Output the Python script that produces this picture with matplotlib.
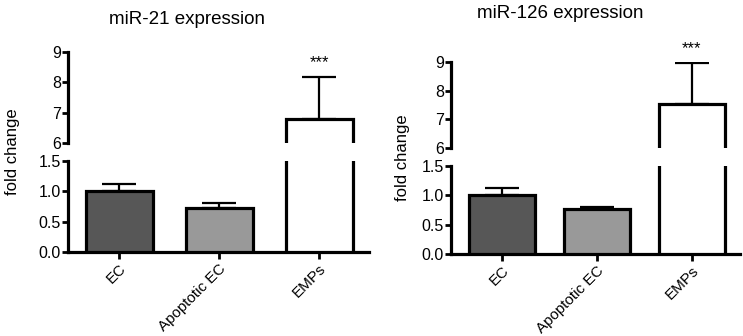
import matplotlib
matplotlib.use("Agg")
import matplotlib.pyplot as plt

plt.rcParams['font.family'] = ['Liberation Sans', 'DejaVu Sans']

categories = ["EC", "Apoptotic EC", "EMPs"]
bar_colors = ["#575757", "#999999", "#ffffff"]

mir21_mean = [1.0, 0.73, 6.8]
mir21_err = [0.12, 0.07, 1.37]

mir126_mean = [1.0, 0.76, 7.53]
mir126_err = [0.12, 0.045, 1.44]

lower_ticks = [0.0, 0.5, 1.0, 1.5]
upper_ticks = [6, 7, 8, 9]

W, H = 743, 336
fig = plt.figure(figsize=(W / 100, H / 100), dpi=100)


def px_axes(x0, x1, ytop, ybot):
    return fig.add_axes([x0 / W, 1 - ybot / H, (x1 - x0) / W, (ybot - ytop) / H])


def draw_panel(x0, x1, up_top, up_bot, lo_top, lo_bot, xlim, width, mean, err, title, title_xy, ylab_x):
    ax_up = px_axes(x0, x1, up_top, up_bot)
    ax_lo = px_axes(x0, x1, lo_top, lo_bot)
    xs = list(range(len(categories)))

    for ax in (ax_up, ax_lo):
        ax.bar(xs, mean, width=width, color=bar_colors, edgecolor="black", linewidth=2.3, zorder=3)
        ax.errorbar(xs, mean, yerr=[[0] * len(err), err], fmt="none", ecolor="black",
                    elinewidth=1.6, capsize=12, capthick=1.6, zorder=2)
        ax.set_xlim(*xlim)
        for s in ("top", "right"):
            ax.spines[s].set_visible(False)
        ax.spines["left"].set_linewidth(2.3)
        ax.tick_params(axis="y", direction="out", length=4, width=2, labelsize=11.5, pad=1)
        ax.tick_params(axis="y", which="minor", direction="in", length=3, width=2)

    ax_up.set_ylim(6, 9)
    ax_up.set_yticks(upper_ticks)
    ax_up.set_yticks([upper_ticks[0]], minor=True)
    ax_up.spines["bottom"].set_visible(False)
    ax_up.set_xticks([])

    ax_lo.set_ylim(0, 1.5)
    ax_lo.set_yticks(lower_ticks)
    ax_lo.set_yticks([lower_ticks[-1]], minor=True)
    ax_lo.set_yticklabels([f"{v:.1f}" for v in lower_ticks])
    ax_lo.spines["bottom"].set_linewidth(2.3)
    ax_lo.set_xticks(xs)
    ax_lo.set_xticklabels(categories, rotation=45, ha="right", rotation_mode="anchor", fontsize=11)
    ax_lo.tick_params(axis="x", direction="out", length=5, width=2, pad=2)

    ax_up.annotate("***", xy=(2, mean[2] + err[2]), xytext=(0, 5), textcoords="offset points",
                   ha="center", va="bottom", fontsize=12, annotation_clip=False)

    fig.text(title_xy[0] / W, 1 - title_xy[1] / H, title, ha="center", va="center", fontsize=13.5)
    fig.text(ylab_x / W, 1 - (up_top + lo_bot) / 2 / H, "fold change", rotation=90,
             ha="center", va="center", fontsize=12)


draw_panel(68, 369, 52, 143, 161, 252, (-0.51, 2.5), 0.67, mir21_mean, mir21_err,
           "miR-21 expression", (187, 20), 13)
draw_panel(451, 740, 62, 148, 166, 254, (-0.54, 2.51), 0.7, mir126_mean, mir126_err,
           "miR-126 expression", (560, 13), 402)

fig.savefig("out.png", dpi=100)
